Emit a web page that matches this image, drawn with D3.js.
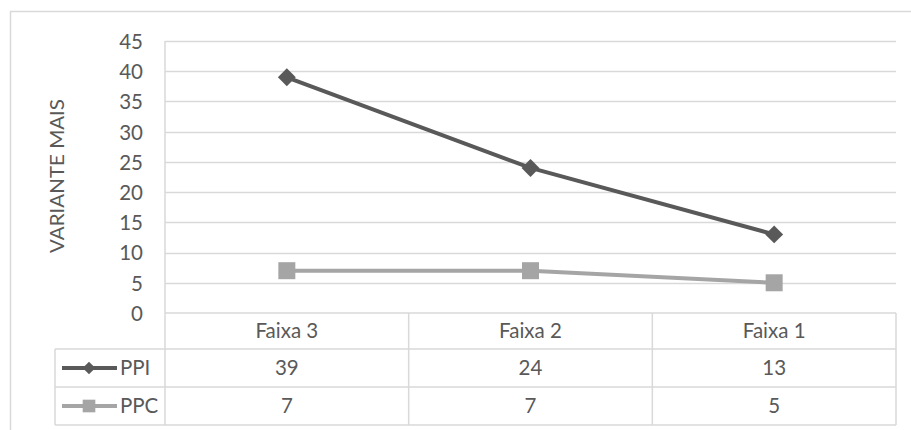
<!DOCTYPE html>
<html>
<head>
<meta charset="utf-8">
<script src="https://cdn.jsdelivr.net/npm/d3@7"></script>
<style>
  html, body { margin: 0; padding: 0; background: #fff; }
  svg { display: block; }
  text { font-family: Lato, "Open Sans", sans-serif; fill: #595959; }
</style>
</head>
<body>
<svg id="chart" width="911" height="430"></svg>
<script>
const categories = ["Faixa 3", "Faixa 2", "Faixa 1"];
const seriesNames = ["PPI", "PPC"];
const ppiValues = [39, 24, 13];
const ppcValues = [7, 7, 5];
const yTicks = [0, 5, 10, 15, 20, 25, 30, 35, 40, 45];
const yTitle = "VARIANTE MAIS";

const series = [
  { name: seriesNames[0], values: ppiValues, color: "#595959", marker: "diamond" },
  { name: seriesNames[1], values: ppcValues, color: "#a5a5a5", marker: "square" }
];

const svg = d3.select("#chart");
const grid = "#d9d9d9";
const fs = 20.5;

const plot = { left: 165, right: 896, top: 41, bottom: 313 };
const tableLeft = 55;
const rowLines = [313, 349, 387, 425];

const x = d3.scaleBand().domain(categories).range([plot.left, plot.right]);
const y = d3.scaleLinear().domain([0, 45]).range([plot.bottom, plot.top]);

// chart border
svg.append("rect").attr("x", 10.5).attr("y", 11.5).attr("width", 920).attr("height", 440)
  .attr("fill", "none").attr("stroke", grid).attr("stroke-width", 1.5);

// gridlines
svg.append("g").selectAll("line").data(yTicks.filter(d => d > 0)).join("line")
  .attr("x1", plot.left).attr("x2", plot.right)
  .attr("y1", d => Math.round(y(d)) + 0.5).attr("y2", d => Math.round(y(d)) + 0.5)
  .attr("stroke", grid).attr("stroke-width", 1.5);

// y axis labels
const yAxis = d3.axisLeft(y).tickValues(yTicks).tickSize(0).tickPadding(0);
const gy = svg.append("g").attr("transform", "translate(143,0)").call(yAxis);
gy.select(".domain").remove();
gy.selectAll("text").attr("font-size", fs).attr("font-family", "Lato").attr("fill", "#595959")
  .attr("dy", "0.36em");

// y title
svg.append("text")
  .attr("transform", "translate(64,176) rotate(-90)")
  .attr("text-anchor", "middle")
  .attr("font-size", 19)
  .attr("textLength", 154).attr("lengthAdjust", "spacingAndGlyphs")
  .text(yTitle);

// table lines
const tg = svg.append("g").attr("stroke", grid).attr("stroke-width", 1.5);
rowLines.forEach((ly, i) => {
  tg.append("line").attr("x1", i === 0 ? plot.left : tableLeft).attr("x2", plot.right)
    .attr("y1", ly).attr("y2", ly);
});
tg.append("line").attr("x1", tableLeft).attr("x2", tableLeft).attr("y1", rowLines[1]).attr("y2", rowLines[3]);
tg.append("line").attr("x1", plot.left).attr("x2", plot.left).attr("y1", plot.top).attr("y2", rowLines[3]);
categories.forEach(c => {
  const xr = x(c) + x.bandwidth();
  tg.append("line").attr("x1", xr).attr("x2", xr).attr("y1", rowLines[0]).attr("y2", rowLines[3]);
});

// category labels
svg.append("g").selectAll("text").data(categories).join("text")
  .attr("x", d => x(d) + x.bandwidth() / 2)
  .attr("y", (rowLines[0] + rowLines[1]) / 2)
  .attr("dy", "0.36em").attr("text-anchor", "middle").attr("font-size", fs)
  .text(d => d);

function markerPath(size) {
  return d3.symbol().type(d3.symbolSquare).size(size)();
}

// lines and markers
const line = d3.line().x((d, i) => x(categories[i]) + x.bandwidth() / 2).y(d => y(d));
series.forEach((s, si) => {
  svg.append("path").datum(s.values).attr("d", line)
    .attr("fill", "none").attr("stroke", s.color).attr("stroke-width", 4)
    .attr("stroke-linejoin", "round").attr("stroke-linecap", "round");
  svg.append("g").selectAll("path").data(s.values).join("path")
    .attr("transform", (d, i) => `translate(${x(categories[i]) + x.bandwidth() / 2},${y(d)})` + (s.marker === "diamond" ? " rotate(45)" : ""))
    .attr("d", s.marker === "diamond" ? markerPath(160) : markerPath(289))
    .attr("fill", s.color);

  // table row
  const ry = (rowLines[si + 1] + rowLines[si + 2]) / 2;
  svg.append("line").attr("x1", 62).attr("x2", 117).attr("y1", ry).attr("y2", ry)
    .attr("stroke", s.color).attr("stroke-width", 4);
  svg.append("path")
    .attr("transform", `translate(89,${ry})` + (s.marker === "diamond" ? " rotate(45)" : ""))
    .attr("d", s.marker === "diamond" ? markerPath(80) : markerPath(160))
    .attr("fill", s.color);
  svg.append("text").attr("x", 120).attr("y", ry).attr("dy", "0.36em").attr("font-size", fs).text(s.name);
  svg.append("g").selectAll("text").data(s.values).join("text")
    .attr("x", (d, i) => x(categories[i]) + x.bandwidth() / 2)
    .attr("y", ry).attr("dy", "0.36em").attr("text-anchor", "middle").attr("font-size", fs)
    .text(d => d);
});
</script>
</body>
</html>
